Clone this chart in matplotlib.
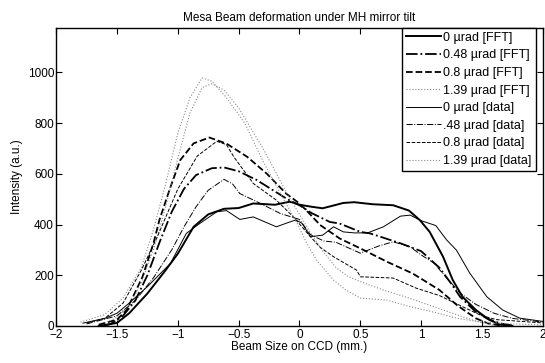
import matplotlib
matplotlib.use('Agg')
import matplotlib.pyplot as plt

plt.rcParams['font.family'] = ['Liberation Sans', 'DejaVu Sans']

# 0 urad FFT
x_fft0 = [-1.65, -1.5, -1.4, -1.25, -1.1, -1.0, -0.87, -0.75, -0.62, -0.5, -0.38, -0.2, -0.08, 0.0,
          0.1, 0.19, 0.28, 0.36, 0.45, 0.6, 0.77, 0.9, 0.99, 1.07, 1.18, 1.26, 1.34, 1.45, 1.56, 1.65, 1.75]
y_fft0 = [0, 12, 50, 128, 220, 285, 391, 440, 462, 465, 483, 478, 490, 478,
          470, 464, 475, 485, 488, 480, 476, 455, 417, 371, 273, 181, 115, 63, 24, 5, 0]

# 0.48 urad FFT
x_fft48 = [-1.6, -1.55, -1.45, -1.35, -1.25, -1.15, -1.05, -0.95, -0.85, -0.72, -0.62, -0.5, -0.35, -0.2,
           -0.1, 0.0, 0.1, 0.25, 0.33, 0.5, 0.58, 0.83, 1.0, 1.15, 1.25, 1.32, 1.45, 1.54, 1.65, 1.75]
y_fft48 = [2, 8, 40, 100, 200, 330, 450, 540, 595, 622, 625, 610, 575, 530,
           500, 476, 445, 410, 404, 371, 365, 326, 295, 230, 165, 115, 55, 30, 10, 2]

# 0.8 urad FFT
x_fft8 = [-1.65, -1.5, -1.42, -1.29, -1.2, -1.15, -1.06, -0.98, -0.87, -0.74, -0.6, -0.43, -0.27, -0.11,
          0.0, 0.08, 0.17, 0.33, 0.5, 0.72, 0.93, 1.15, 1.3, 1.45, 1.55, 1.65]
y_fft8 = [5, 25, 63, 194, 326, 420, 548, 654, 720, 743, 719, 667, 601, 522,
          483, 444, 398, 345, 306, 253, 207, 142, 80, 30, 10, 2]

# 1.39 urad FFT
x_fft139 = [-1.6, -1.5, -1.4, -1.3, -1.2, -1.1, -1.0, -0.9, -0.8, -0.72, -0.62, -0.5, -0.4, -0.3, -0.2, -0.1,
            0.0, 0.1, 0.2, 0.3, 0.4, 0.5, 0.7, 0.9, 1.05, 1.2, 1.35, 1.48, 1.6]
y_fft139 = [10, 35, 80, 170, 300, 470, 660, 840, 940, 955, 930, 860, 780, 700, 610, 520,
            440, 360, 290, 230, 195, 175, 140, 110, 85, 60, 35, 15, 3]

# 0 urad data
x_d0 = [-1.78, -1.6, -1.5, -1.4, -1.25, -1.06, -0.93, -0.82, -0.68, -0.6, -0.49, -0.38, -0.19, -0.08,
        -0.03, 0.02, 0.09, 0.19, 0.28, 0.36, 0.45, 0.56, 0.69, 0.83, 0.91, 1.0, 1.07, 1.12, 1.21,
        1.29, 1.4, 1.54, 1.67, 1.81, 2.0]
y_d0 = [11, 30, 50, 90, 155, 247, 365, 404, 450, 455, 420, 430, 391, 410,
        418, 405, 352, 358, 391, 371, 367, 367, 391, 433, 437, 415, 404, 396, 339,
        299, 208, 115, 63, 31, 18]

# .48 urad data
x_d48 = [-1.75, -1.5, -1.35, -1.2, -1.05, -0.95, -0.85, -0.75, -0.62, -0.55, -0.49, -0.32, -0.16,
         0.0, 0.09, 0.2, 0.3, 0.5, 0.65, 0.77, 0.91, 1.0, 1.1, 1.2, 1.32, 1.45, 1.6, 1.75, 2.0]
y_d48 = [8, 40, 100, 190, 300, 390, 470, 535, 578, 560, 522, 483, 444,
         420, 360, 335, 330, 287, 315, 332, 312, 280, 250, 195, 130, 85, 50, 30, 15]

# 0.8 urad data
x_d8 = [-1.75, -1.6, -1.45, -1.3, -1.17, -1.0, -0.84, -0.68, -0.6, -0.54, -0.38, -0.19, -0.05,
        0.09, 0.17, 0.28, 0.47, 0.5, 0.77, 0.96, 1.15, 1.34, 1.5, 1.62, 2.0]
y_d8 = [12, 30, 90, 220, 350, 540, 670, 728, 715, 667, 562, 496, 430,
        352, 310, 273, 220, 194, 189, 149, 120, 76, 40, 25, 12]

# 1.39 urad data
x_d139 = [-1.8, -1.6, -1.45, -1.3, -1.2, -1.1, -1.0, -0.9, -0.8, -0.72, -0.6, -0.45, -0.3, -0.2,
          -0.11, -0.02, 0.06, 0.14, 0.28, 0.38, 0.5, 0.72, 0.91, 1.1, 1.3, 1.5, 1.75, 2.0]
y_d139 = [15, 45, 110, 230, 380, 560, 760, 900, 978, 965, 900, 800, 650, 560,
          483, 405, 326, 260, 181, 142, 110, 102, 76, 55, 30, 15, 8, 5]

fig = plt.figure(figsize=(5.45, 3.63), dpi=100)
ax = fig.add_axes([0.103, 0.102, 0.893, 0.821])

gray = '#8a8a8a'
ax.plot(x_fft0, y_fft0, color='k', lw=1.4, ls='-', label='0 µrad [FFT]')
ax.plot(x_fft48, y_fft48, color='k', lw=1.3, ls='-.', label='0.48 µrad [FFT]')
ax.plot(x_fft8, y_fft8, color='k', lw=1.3, ls='--', label='0.8 µrad [FFT]')
ax.plot(x_fft139, y_fft139, color=gray, lw=0.8, ls=':', label='1.39 µrad [FFT]')
ax.plot(x_d0, y_d0, color='k', lw=0.7, ls='-', label='0 µrad [data]')
ax.plot(x_d48, y_d48, color='k', lw=0.7, ls='-.', label='.48 µrad [data]')
ax.plot(x_d8, y_d8, color='k', lw=0.7, ls='--', label='0.8 µrad [data]')
ax.plot(x_d139, y_d139, color=gray, lw=0.8, ls=':', label='1.39 µrad [data]')

ax.set_xlim(-2, 2)
ax.set_ylim(0, 1175)
ax.set_xticks([-2, -1.5, -1, -0.5, 0, 0.5, 1, 1.5, 2])
ax.set_xticklabels(['−2', '−1.5', '−1', '−0.5', '0', '0.5', '1', '1.5', '2'])
ax.set_yticks([0, 200, 400, 600, 800, 1000])
ax.tick_params(direction='in', top=True, right=True, labelsize=8.5, length=4, pad=1.5)
ax.tick_params(axis='x', pad=2.5)
for s in ax.spines.values():
    s.set_linewidth(1.0)

ax.set_title('Mesa Beam deformation under MH mirror tilt', fontsize=8.5, pad=5)
ax.set_xlabel('Beam Size on CCD (mm.)', fontsize=8.5, labelpad=0)
ax.set_ylabel('Intensity (a.u.)', fontsize=8.5, labelpad=3)

leg = ax.legend(loc='upper right', bbox_to_anchor=(0.985, 1.0), fontsize=9, fancybox=False,
                edgecolor='k', framealpha=1, handlelength=2.8, handletextpad=0.2,
                labelspacing=0.45, borderpad=0.3, borderaxespad=0)
leg.get_frame().set_linewidth(1.0)

fig.savefig('out.png', dpi=100)
